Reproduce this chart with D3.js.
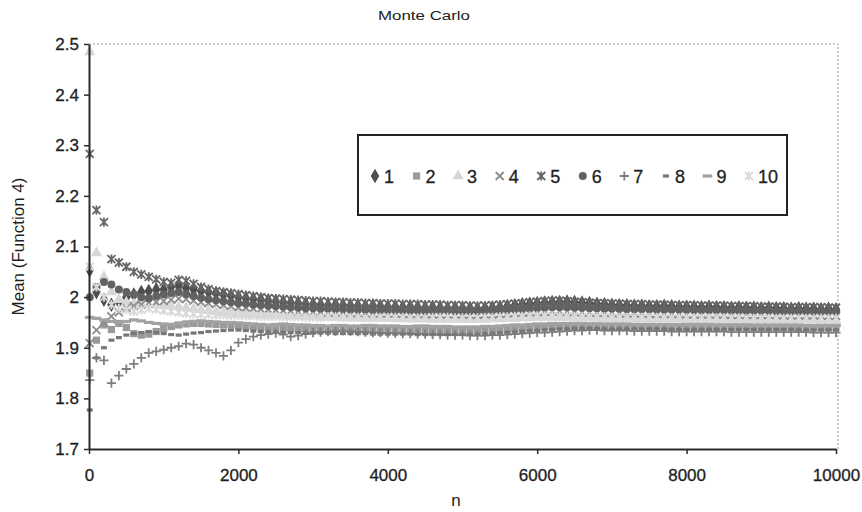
<!DOCTYPE html>
<html>
<head>
<meta charset="utf-8">
<script src="https://cdn.jsdelivr.net/npm/d3@7"></script>
<style>
  html, body { margin: 0; padding: 0; background: #fff; }
  svg { display: block; font-family: Arial, "Liberation Sans", sans-serif; }
</style>
</head>
<body>
<svg id="chart" width="862" height="512"></svg>
<script>
// Sample sizes: first running mean at n = 10, then every 100 up to 10000
const sampleN = [10].concat(d3.range(100, 10001, 100));

// Running means of Function 4 for ten independent Monte Carlo runs
const run1 = [2.053,
  2.010, 1.995, 1.985, 1.990, 2.000, 2.005, 2.010, 2.012, 2.015, 2.015,
  2.020, 2.022, 2.018, 2.015, 2.012, 2.010, 2.008, 2.005, 2.003, 2.000,
  1.998, 1.996, 1.995, 1.993, 1.992, 1.990, 1.989, 1.988, 1.987, 1.986,
  1.985, 1.984, 1.985, 1.984, 1.983, 1.983, 1.982, 1.983, 1.982, 1.981,
  1.981, 1.980, 1.981, 1.980, 1.979, 1.980, 1.979, 1.978, 1.979, 1.978,
  1.978, 1.977, 1.978, 1.979, 1.980, 1.982, 1.984, 1.986, 1.987, 1.988,
  1.989, 1.990, 1.990, 1.991, 1.990, 1.989, 1.988, 1.987, 1.986, 1.985,
  1.984, 1.984, 1.983, 1.983, 1.982, 1.982, 1.983, 1.982, 1.981, 1.981,
  1.981, 1.980, 1.981, 1.980, 1.980, 1.979, 1.980, 1.979, 1.979, 1.978,
  1.979, 1.978, 1.978, 1.977, 1.978, 1.977, 1.977, 1.976, 1.977, 1.976];
const run2 = [1.850,
  1.915, 1.945, 1.936, 1.948, 1.940, 1.928, 1.925, 1.927, 1.932, 1.938,
  1.942, 1.945, 1.947, 1.948, 1.948, 1.947, 1.946, 1.945, 1.945, 1.944,
  1.943, 1.942, 1.941, 1.940, 1.940, 1.939, 1.939, 1.938, 1.938, 1.938,
  1.937, 1.937, 1.937, 1.937, 1.936, 1.936, 1.936, 1.936, 1.936, 1.935,
  1.935, 1.935, 1.935, 1.935, 1.935, 1.934, 1.934, 1.934, 1.934, 1.934,
  1.934, 1.934, 1.935, 1.935, 1.936, 1.937, 1.938, 1.939, 1.940, 1.941,
  1.942, 1.942, 1.943, 1.943, 1.943, 1.943, 1.943, 1.943, 1.942, 1.942,
  1.942, 1.942, 1.942, 1.942, 1.942, 1.942, 1.941, 1.941, 1.941, 1.941,
  1.941, 1.941, 1.941, 1.941, 1.941, 1.941, 1.941, 1.941, 1.940, 1.940,
  1.940, 1.940, 1.940, 1.940, 1.940, 1.940, 1.940, 1.940, 1.940, 1.940];
const run3 = [2.484,
  2.087, 2.040, 2.010, 1.995, 1.990, 1.988, 1.986, 1.985, 1.984, 1.983,
  1.982, 1.981, 1.979, 1.977, 1.975, 1.973, 1.971, 1.969, 1.968, 1.967,
  1.966, 1.965, 1.965, 1.964, 1.963, 1.963, 1.962, 1.962, 1.961, 1.961,
  1.960, 1.960, 1.960, 1.959, 1.959, 1.959, 1.958, 1.958, 1.958, 1.958,
  1.957, 1.957, 1.957, 1.957, 1.957, 1.956, 1.956, 1.956, 1.956, 1.956,
  1.956, 1.956, 1.956, 1.957, 1.957, 1.958, 1.958, 1.959, 1.959, 1.960,
  1.960, 1.960, 1.960, 1.960, 1.959, 1.959, 1.959, 1.958, 1.958, 1.958,
  1.958, 1.958, 1.957, 1.957, 1.957, 1.957, 1.957, 1.957, 1.957, 1.956,
  1.956, 1.956, 1.956, 1.956, 1.956, 1.956, 1.956, 1.955, 1.955, 1.955,
  1.955, 1.955, 1.955, 1.955, 1.955, 1.955, 1.955, 1.954, 1.954, 1.954];
const run4 = [1.909,
  1.935, 1.950, 1.962, 1.970, 1.978, 1.982, 1.985, 1.988, 1.990, 1.992,
  1.995, 1.997, 1.996, 1.993, 1.990, 1.988, 1.986, 1.984, 1.982, 1.980,
  1.979, 1.978, 1.977, 1.976, 1.975, 1.974, 1.973, 1.972, 1.972, 1.971,
  1.971, 1.970, 1.970, 1.970, 1.969, 1.969, 1.969, 1.968, 1.968, 1.968,
  1.968, 1.967, 1.967, 1.967, 1.967, 1.966, 1.966, 1.966, 1.966, 1.966,
  1.965, 1.965, 1.966, 1.966, 1.967, 1.968, 1.969, 1.970, 1.970, 1.971,
  1.971, 1.972, 1.972, 1.971, 1.971, 1.970, 1.970, 1.969, 1.969, 1.969,
  1.968, 1.968, 1.968, 1.968, 1.967, 1.967, 1.967, 1.967, 1.967, 1.966,
  1.966, 1.966, 1.966, 1.966, 1.966, 1.965, 1.965, 1.965, 1.965, 1.965,
  1.965, 1.965, 1.964, 1.964, 1.964, 1.964, 1.964, 1.964, 1.963, 1.963];
const run5 = [2.283,
  2.172, 2.148, 2.075, 2.068, 2.060, 2.050, 2.045, 2.040, 2.035, 2.030,
  2.028, 2.034, 2.032, 2.026, 2.020, 2.016, 2.012, 2.010, 2.008, 2.006,
  2.004, 2.002, 2.000, 1.998, 1.997, 1.996, 1.995, 1.994, 1.993, 1.992,
  1.992, 1.991, 1.990, 1.990, 1.989, 1.989, 1.988, 1.988, 1.987, 1.987,
  1.987, 1.986, 1.986, 1.986, 1.985, 1.985, 1.985, 1.984, 1.984, 1.984,
  1.983, 1.983, 1.983, 1.984, 1.985, 1.986, 1.987, 1.988, 1.990, 1.991,
  1.992, 1.993, 1.993, 1.992, 1.991, 1.990, 1.989, 1.988, 1.988, 1.987,
  1.987, 1.986, 1.986, 1.986, 1.985, 1.985, 1.985, 1.984, 1.984, 1.984,
  1.984, 1.983, 1.983, 1.983, 1.983, 1.982, 1.982, 1.982, 1.982, 1.981,
  1.981, 1.981, 1.981, 1.980, 1.980, 1.980, 1.980, 1.980, 1.979, 1.979];
const run6 = [2.000,
  2.020, 2.030, 2.025, 2.015, 2.010, 2.005, 2.000, 1.998, 2.002, 2.005,
  2.008, 2.010, 2.006, 2.002, 1.999, 1.996, 1.994, 1.992, 1.990, 1.988,
  1.987, 1.985, 1.984, 1.983, 1.982, 1.981, 1.980, 1.979, 1.978, 1.978,
  1.977, 1.977, 1.976, 1.976, 1.975, 1.975, 1.975, 1.974, 1.974, 1.974,
  1.973, 1.973, 1.973, 1.973, 1.972, 1.972, 1.972, 1.972, 1.971, 1.971,
  1.971, 1.971, 1.972, 1.972, 1.973, 1.974, 1.975, 1.976, 1.977, 1.978,
  1.979, 1.980, 1.980, 1.980, 1.979, 1.979, 1.978, 1.978, 1.977, 1.977,
  1.977, 1.976, 1.976, 1.976, 1.976, 1.975, 1.975, 1.975, 1.975, 1.975,
  1.974, 1.974, 1.974, 1.974, 1.974, 1.973, 1.973, 1.973, 1.973, 1.973,
  1.973, 1.972, 1.972, 1.972, 1.972, 1.972, 1.971, 1.971, 1.971, 1.971];
const run7 = [1.836,
  1.880, 1.875, 1.830, 1.845, 1.858, 1.868, 1.880, 1.890, 1.893, 1.896,
  1.900, 1.903, 1.908, 1.906, 1.900, 1.895, 1.890, 1.884, 1.895, 1.910,
  1.917, 1.922, 1.925, 1.927, 1.929, 1.926, 1.922, 1.924, 1.927, 1.930,
  1.931, 1.932, 1.933, 1.934, 1.933, 1.932, 1.931, 1.930, 1.930, 1.929,
  1.929, 1.928, 1.928, 1.927, 1.927, 1.926, 1.926, 1.925, 1.925, 1.925,
  1.924, 1.924, 1.924, 1.925, 1.925, 1.926, 1.927, 1.928, 1.929, 1.930,
  1.930, 1.931, 1.932, 1.933, 1.934, 1.934, 1.935, 1.935, 1.934, 1.934,
  1.934, 1.934, 1.933, 1.933, 1.933, 1.933, 1.933, 1.932, 1.932, 1.932,
  1.932, 1.932, 1.932, 1.932, 1.932, 1.931, 1.931, 1.931, 1.931, 1.931,
  1.931, 1.931, 1.931, 1.931, 1.931, 1.931, 1.930, 1.930, 1.930, 1.930];
const run8 = [1.777,
  1.880, 1.900, 1.915, 1.920, 1.925, 1.928, 1.930, 1.932, 1.930, 1.928,
  1.926, 1.925, 1.927, 1.929, 1.930, 1.932, 1.933, 1.934, 1.935, 1.935,
  1.934, 1.933, 1.932, 1.931, 1.931, 1.930, 1.930, 1.930, 1.929, 1.929,
  1.929, 1.929, 1.928, 1.928, 1.928, 1.928, 1.928, 1.927, 1.927, 1.927,
  1.927, 1.927, 1.927, 1.926, 1.926, 1.926, 1.926, 1.926, 1.926, 1.926,
  1.926, 1.926, 1.927, 1.928, 1.929, 1.930, 1.931, 1.932, 1.933, 1.934,
  1.935, 1.936, 1.937, 1.937, 1.938, 1.938, 1.938, 1.938, 1.937, 1.937,
  1.937, 1.937, 1.937, 1.937, 1.937, 1.937, 1.937, 1.936, 1.936, 1.936,
  1.936, 1.936, 1.936, 1.936, 1.936, 1.936, 1.936, 1.936, 1.936, 1.936,
  1.936, 1.936, 1.936, 1.936, 1.935, 1.935, 1.935, 1.935, 1.935, 1.935];
const run9 = [1.960,
  1.958, 1.955, 1.952, 1.950, 1.952, 1.955, 1.953, 1.950, 1.948, 1.947,
  1.946, 1.948, 1.950, 1.952, 1.953, 1.952, 1.951, 1.950, 1.950, 1.949,
  1.948, 1.947, 1.946, 1.945, 1.946, 1.947, 1.946, 1.945, 1.945, 1.944,
  1.944, 1.943, 1.944, 1.944, 1.943, 1.943, 1.944, 1.944, 1.943, 1.943,
  1.943, 1.942, 1.942, 1.943, 1.943, 1.942, 1.942, 1.942, 1.941, 1.941,
  1.941, 1.941, 1.942, 1.942, 1.943, 1.944, 1.945, 1.945, 1.946, 1.947,
  1.947, 1.948, 1.948, 1.948, 1.948, 1.948, 1.947, 1.947, 1.947, 1.947,
  1.947, 1.947, 1.946, 1.946, 1.946, 1.946, 1.946, 1.946, 1.946, 1.946,
  1.946, 1.946, 1.946, 1.945, 1.945, 1.945, 1.945, 1.945, 1.945, 1.945,
  1.945, 1.945, 1.945, 1.945, 1.945, 1.944, 1.944, 1.944, 1.944, 1.944];
const run10 = [2.060,
  2.020, 2.000, 1.985, 1.978, 1.975, 1.972, 1.975, 1.978, 1.976, 1.974,
  1.972, 1.970, 1.968, 1.967, 1.966, 1.966, 1.965, 1.965, 1.964, 1.964,
  1.963, 1.963, 1.962, 1.962, 1.962, 1.961, 1.961, 1.961, 1.960, 1.960,
  1.960, 1.961, 1.961, 1.960, 1.960, 1.960, 1.959, 1.959, 1.960, 1.960,
  1.960, 1.960, 1.959, 1.959, 1.959, 1.960, 1.960, 1.960, 1.959, 1.959,
  1.959, 1.959, 1.960, 1.960, 1.961, 1.961, 1.962, 1.962, 1.963, 1.963,
  1.963, 1.963, 1.962, 1.962, 1.962, 1.961, 1.961, 1.961, 1.961, 1.960,
  1.960, 1.960, 1.960, 1.960, 1.960, 1.960, 1.959, 1.959, 1.959, 1.959,
  1.959, 1.959, 1.959, 1.959, 1.959, 1.959, 1.959, 1.958, 1.958, 1.958,
  1.958, 1.958, 1.958, 1.958, 1.958, 1.958, 1.958, 1.958, 1.958, 1.958];

const seriesNames = ["1", "2", "3", "4", "5", "6", "7", "8", "9", "10"];
const seriesValues = [run1, run2, run3, run4, run5, run6, run7, run8, run9, run10];

const xTickValues = [0, 2000, 4000, 6000, 8000, 10000];
const yTickValues = [1.7, 1.8, 1.9, 2.0, 2.1, 2.2, 2.3, 2.4, 2.5];
const yTickLabels = ["1.7", "1.8", "1.9", "2", "2.1", "2.2", "2.3", "2.4", "2.5"];

// Marker style for each run (Excel-like grayscale marker cycle)
const markerStyles = [
  { shape: "diamond",   color: "#4e4e4e" },
  { shape: "square",    color: "#9a9a9a" },
  { shape: "triangle",  color: "#d6d6d6" },
  { shape: "x",         color: "#8c8c8c" },
  { shape: "asterisk",  color: "#666666" },
  { shape: "circle",    color: "#626262" },
  { shape: "plus",      color: "#7e7e7e" },
  { shape: "shortdash", color: "#777777" },
  { shape: "longdash",  color: "#a2a2a2" },
  { shape: "asterisk",  color: "#dadada" }
];

const svg = d3.select("#chart");
const plot = { left: 89, right: 836, top: 44, bottom: 449 };

const x = d3.scaleLinear().domain([0, 10000]).range([plot.left, plot.right]);
const y = d3.scaleLinear().domain([1.7, 2.5]).range([plot.bottom, plot.top]);

// Draw one marker of a given style into a selection
function drawMarker(g, style) {
  const c = style.color;
  switch (style.shape) {
    case "diamond":
      g.append("path").attr("d", d3.symbol(d3.symbolDiamond, 62)()).attr("fill", c);
      break;
    case "square":
      g.append("rect").attr("x", -3.6).attr("y", -3.6).attr("width", 7.2).attr("height", 7.2).attr("fill", c);
      break;
    case "triangle":
      g.append("path").attr("d", d3.symbol(d3.symbolTriangle, 55)()).attr("fill", c);
      break;
    case "circle":
      g.append("circle").attr("r", 4).attr("fill", c);
      break;
    case "x":
      g.append("path").attr("d", "M-4,-4L4,4M-4,4L4,-4")
        .attr("stroke", c).attr("stroke-width", 1.8).attr("fill", "none");
      break;
    case "asterisk":
      g.append("path").attr("d", "M-4,-4L4,4M-4,4L4,-4M0,-4.6L0,4.6")
        .attr("stroke", c).attr("stroke-width", 1.8).attr("fill", "none");
      break;
    case "plus":
      g.append("path").attr("d", "M-4.6,0L4.6,0M0,-4.6L0,4.6")
        .attr("stroke", c).attr("stroke-width", 1.8).attr("fill", "none");
      break;
    case "shortdash":
      g.append("rect").attr("x", -3).attr("y", -1.6).attr("width", 6).attr("height", 3.2).attr("fill", c);
      break;
    case "longdash":
      g.append("rect").attr("x", -4.8).attr("y", -1.6).attr("width", 9.6).attr("height", 3.2).attr("fill", c);
      break;
  }
}

// Title
svg.append("text")
  .attr("x", 424).attr("y", 20)
  .attr("text-anchor", "middle")
  .attr("font-size", 13).attr("fill", "#1e1e1e")
  .attr("textLength", 92).attr("lengthAdjust", "spacingAndGlyphs")
  .text("Monte Carlo");

// Dotted plot-area border on the top and right
svg.append("path")
  .attr("d", `M${plot.left},${plot.top}H${plot.right + 2}V${plot.bottom}`)
  .attr("fill", "none").attr("stroke", "#9a9a9a")
  .attr("stroke-width", 1).attr("stroke-dasharray", "2,2");

// Markers for all ten runs
seriesValues.forEach((vals, i) => {
  const g = svg.append("g").attr("class", "run run-" + seriesNames[i]);
  vals.forEach((v, k) => {
    const m = g.append("g").attr("transform", `translate(${x(sampleN[k])},${y(v)})`);
    drawMarker(m, markerStyles[i]);
  });
});

// Axes
const yAxis = d3.axisLeft(y)
  .tickValues(yTickValues)
  .tickFormat((d, i) => yTickLabels[i])
  .tickSizeInner(5).tickSizeOuter(0).tickPadding(5);
const xAxis = d3.axisBottom(x)
  .tickValues(xTickValues)
  .tickFormat(d3.format("d"))
  .tickSizeInner(5).tickSizeOuter(0).tickPadding(15);

const gy = svg.append("g").attr("transform", `translate(${plot.left},0)`).call(yAxis);
const gx = svg.append("g").attr("transform", `translate(0,${plot.bottom})`).call(xAxis);

[gx, gy].forEach(g => {
  g.select(".domain").attr("stroke", "#2a2a2a").attr("stroke-width", 2);
  g.selectAll(".tick line").attr("stroke", "#2a2a2a").attr("stroke-width", 1.5);
  g.selectAll(".tick text")
    .attr("font-family", "Arial, 'Liberation Sans', sans-serif")
    .attr("font-size", 17).attr("fill", "#1e1e1e")
    .attr("stroke", "#1e1e1e").attr("stroke-width", 0.3);
});

// Axis titles
svg.append("text")
  .attr("x", 456).attr("y", 506)
  .attr("text-anchor", "middle")
  .attr("font-size", 17).attr("fill", "#1e1e1e")
  .text("n");

svg.append("text")
  .attr("transform", `translate(24,${(plot.top + plot.bottom) / 2}) rotate(-90)`)
  .attr("text-anchor", "middle")
  .attr("font-size", 17).attr("fill", "#1e1e1e")
  .text("Mean (Function 4)");

// Legend
const legend = svg.append("g");
legend.append("rect")
  .attr("x", 358).attr("y", 135).attr("width", 429).attr("height", 80)
  .attr("fill", "#fff").attr("stroke", "#222").attr("stroke-width", 2);

const legendX = d3.scalePoint().domain(seriesNames).range([375, 749]);
seriesNames.forEach((name, i) => {
  const item = legend.append("g").attr("transform", `translate(${legendX(name)},176)`);
  drawMarker(item, markerStyles[i]);
  item.append("text")
    .attr("x", 9).attr("y", 6.5)
    .attr("font-size", 18).attr("fill", "#1e1e1e")
    .attr("stroke", "#1e1e1e").attr("stroke-width", 0.3)
    .text(name);
});
</script>
</body>
</html>
